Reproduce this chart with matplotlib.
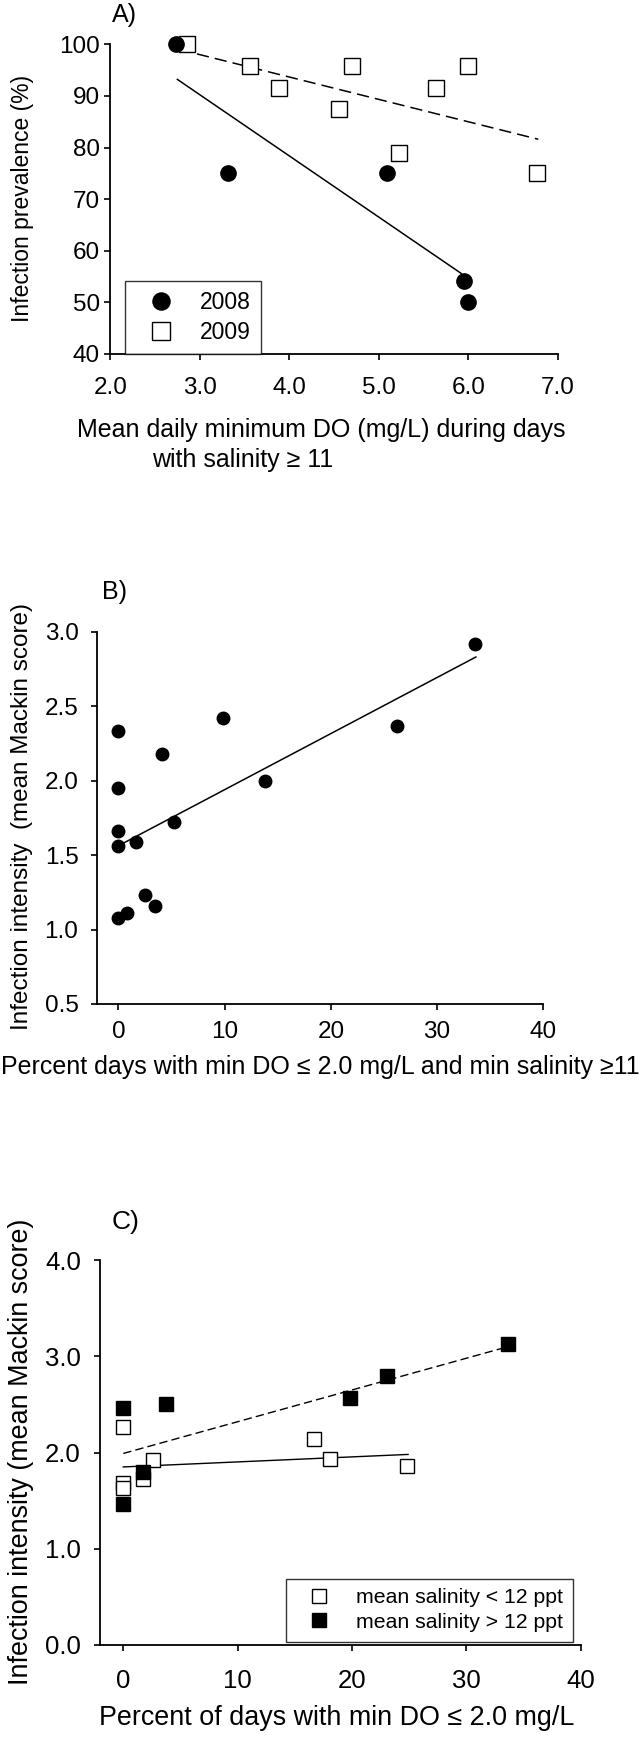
import numpy as np
from matplotlib import pyplot as plt

plt.rcParams['font.family'] = ['Liberation Sans', 'DejaVu Sans']

# panel A: infection prevalence vs mean daily minimum DO
a_x_2008 = [2.74, 3.32, 5.09, 5.95, 5.99]
a_y_2008 = [100, 75, 75, 54.2, 50]
a_x_2009 = [2.86, 3.56, 3.89, 4.55, 4.70, 5.22, 5.64, 6.00, 6.77]
a_y_2009 = [100, 95.8, 91.6, 87.5, 95.8, 79.0, 91.6, 95.8, 75]
a_fit_2008_x = [2.75, 5.92]
a_fit_2008_y = [93.2, 55.6]
a_fit_2009_x = [2.77, 6.78]
a_fit_2009_y = [99.0, 81.6]

# panel B: infection intensity vs percent days with low DO
b_x = [0, 0, 0, 0, 1.69, 4.07, 5.26, 9.88, 13.8, 26.2, 33.55, 2.50, 3.46, 0, 0.85]
b_y = [2.33, 1.95, 1.66, 1.56, 1.59, 2.18, 1.72, 2.42, 2.00, 2.37, 2.92, 1.23, 1.16, 1.08, 1.11]
b_fit_x = [0.46, 33.65]
b_fit_y = [1.58, 2.83]

# panel C: split by mean salinity
c_x_low = [0, 16.7, 18.1, 24.8, 2.6, 1.75, 0, 0]
c_y_low = [2.26, 2.145, 1.93, 1.86, 1.92, 1.72, 1.68, 1.63]
c_x_high = [0, 3.75, 1.75, 19.8, 23.05, 33.65, 0]
c_y_high = [2.46, 2.50, 1.80, 2.57, 2.80, 3.13, 1.46]
c_fit_low_x = [0, 24.9]
c_fit_low_y = [1.85, 1.98]
c_fit_high_x = [0, 33.65]
c_fit_high_y = [1.99, 3.10]

W, H = 640, 1738
FS = 17.5


def axes_px(left, right, top, bottom):
    return fig.add_axes([left / W, 1 - bottom / H, (right - left) / W, (bottom - top) / H])


def style(ax, xpad, ypad, size=FS):
    for s in ['top', 'right']:
        ax.spines[s].set_visible(False)
    for s in ['left', 'bottom']:
        ax.spines[s].set_linewidth(1.3)
    ax.tick_params(direction='out', length=4.5, width=1.2, labelsize=size)
    ax.tick_params(axis='x', pad=xpad)
    ax.tick_params(axis='y', pad=ypad)


fig = plt.figure(figsize=(W / 100, H / 100), dpi=100)

# ---- A ----
ax = axes_px(110.2, 558, 44.3, 354)
ax.plot(a_x_2009, a_y_2009, 's', ms=11, mfc='white', mec='black', mew=1.0,
        clip_on=False, zorder=3, label='2009')
ax.plot(a_x_2008, a_y_2008, 'o', ms=11, color='black', clip_on=False, zorder=4, label='2008')
ax.plot(a_fit_2008_x, a_fit_2008_y, '-', color='black', lw=1.1)
ax.plot(a_fit_2009_x, a_fit_2009_y, '--', color='black', lw=1.1, dashes=(8, 4))
ax.set_xlim(2, 7)
ax.set_ylim(40, 100)
ax.set_xticks(np.arange(2, 7.5, 1.0))
ax.set_xticklabels(['%.1f' % v for v in np.arange(2, 7.5, 1.0)])
ax.set_yticks(np.arange(40, 101, 10))
style(ax, 12, 3)
h, l = ax.get_legend_handles_labels()
leg = ax.legend(h[::-1], l[::-1], loc='lower left', bbox_to_anchor=(0.032, 0.0),
                borderaxespad=0, fontsize=16.5, frameon=True, fancybox=False,
                edgecolor='black', borderpad=0.45, handlelength=2.3,
                handletextpad=0.55, labelspacing=0.3, markerscale=1.12)
leg.get_frame().set_linewidth(1.0)
fig.text(112 / W, 1 - 15 / H, 'A)', fontsize=18, ha='left', va='center')
fig.text(22.4 / W, 1 - 198.5 / H, 'Infection prevalence (%)', fontsize=16.5,
         rotation=90, ha='center', va='center')
fig.text(321 / W, 1 - 430 / H, 'Mean daily minimum DO (mg/L) during days',
         fontsize=18, ha='center', va='center')
fig.text(152 / W, 1 - 460 / H, 'with salinity \u2265 11', fontsize=18,
         ha='left', va='center')

# ---- B ----
ax = axes_px(97.2, 543.3, 631.7, 1004)
ax.plot(b_x, b_y, 'o', ms=9, color='black', zorder=3)
ax.plot(b_fit_x, b_fit_y, '-', color='black', lw=1.1)
ax.set_xlim(-2, 40)
ax.set_ylim(0.5, 3.0)
ax.set_xticks(np.arange(0, 41, 10))
ax.set_yticks(np.arange(0.5, 3.01, 0.5))
ax.set_yticklabels(['%.1f' % v for v in np.arange(0.5, 3.01, 0.5)])
style(ax, 8, 9)
fig.text(102 / W, 1 - 591.7 / H, 'B)', fontsize=18, ha='left', va='center')
fig.text(22.4 / W, 1 - 817 / H, 'Infection intensity  (mean Mackin score)',
         fontsize=FS, rotation=90, ha='center', va='center')
fig.text(320 / W, 1 - 1066.7 / H,
         'Percent days with min DO \u2264 2.0 mg/L and min salinity \u226511',
         fontsize=18, ha='center', va='center')

# ---- C ----
ax = axes_px(100.4, 580.8, 1260, 1645)
ax.plot(c_x_low, c_y_low, 's', ms=9.5, mfc='white', mec='black', mew=1.0,
        zorder=3, label='mean salinity < 12 ppt')
ax.plot(c_x_high, c_y_high, 's', ms=9.5, color='black', zorder=4,
        label='mean salinity > 12 ppt')
ax.plot(c_fit_low_x, c_fit_low_y, '-', color='black', lw=1.0)
ax.plot(c_fit_high_x, c_fit_high_y, '--', color='black', lw=1.0, dashes=(6, 3))
ax.set_xlim(-2, 40)
ax.set_ylim(0, 4)
ax.set_xticks(np.arange(0, 41, 10))
ax.set_yticks(np.arange(0, 4.01, 1.0))
ax.set_yticklabels(['%.1f' % v for v in np.arange(0, 4.01, 1.0)])
style(ax, 13, 9.5, 18.5)
leg = ax.legend(loc='lower right', bbox_to_anchor=(0.984, 0.009), borderaxespad=0,
                fontsize=15.3, frameon=True, fancybox=False, edgecolor='black',
                borderpad=0.46, handlelength=2.2, handletextpad=0.64,
                labelspacing=0.25)
leg.get_frame().set_linewidth(1.0)
fig.text(112 / W, 1 - 1221.7 / H, 'C)', fontsize=19, ha='left', va='center')
fig.text(21 / W, 1 - 1452 / H, 'Infection intensity (mean Mackin score)',
         fontsize=19.4, rotation=90, ha='center', va='center')
fig.text(337 / W, 1 - 1718.3 / H, 'Percent of days with min DO \u2264 2.0 mg/L',
         fontsize=19.4, ha='center', va='center')

plt.savefig('out.png', dpi=100)
